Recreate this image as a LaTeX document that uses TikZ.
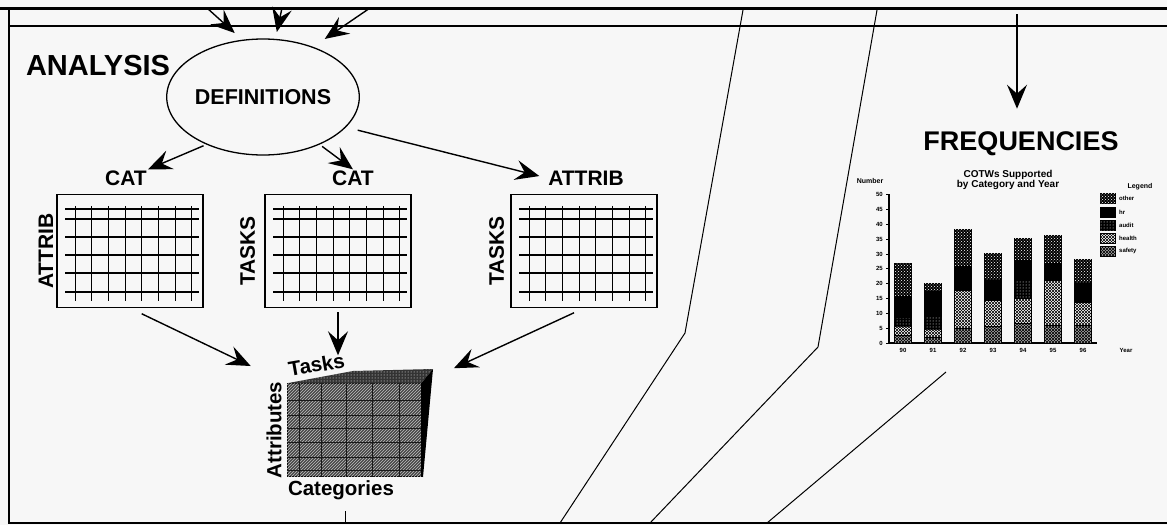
\documentclass[tikz,border=0pt]{standalone}
\usepackage{fontspec}
\setmainfont{Liberation Sans}
\usetikzlibrary{arrows.meta,positioning,calc,patterns,shapes.geometric}

\begin{document}
\begin{tikzpicture}[x=1pt,y=-1pt,
  every node/.style={inner sep=1pt},
  lbl/.style={font=\fontsize{21}{21}\selectfont\bfseries},
  cubelbl/.style={font=\fontsize{20.5}{20.5}\selectfont\bfseries},
  arr/.style={-{Stealth[length=24pt,width=20pt,inset=9pt]},line width=1.4pt},
  mat/.style={draw,line width=1.3pt,minimum width=146pt,minimum height=113pt},
  tiny/.style={font=\fontsize{6}{6}\selectfont\bfseries},
  segA/.style={draw,fill=black,postaction={pattern=crosshatch dots,pattern color=white}},
  segB/.style={draw,fill=black},
  segC/.style={draw,fill=black,postaction={pattern=dots,pattern color=white}},
  segD/.style={draw,fill=white,postaction={pattern=north east lines},postaction={pattern=north west lines}},
  segE/.style={draw,fill=black!35,postaction={pattern=north east lines},postaction={pattern=north west lines}}]
\useasboundingbox (0,0) rectangle (1167,525);
\fill[black!3] (0,0) rectangle (1167,525);

\draw[line width=3pt] (0,8) -- (1167,8);
\draw[line width=2.4pt] (9,26) -- (1167,26);
\draw[line width=1.8pt] (9,8) -- (9,523) -- (1167,523);
\draw[line width=1pt] (743,10) -- (685,333) -- (560,523);
\draw[line width=1pt] (877,10) -- (818,347) -- (650,523);
\draw[line width=1pt] (946,372) -- (767,523);
\draw[line width=0.8pt] (345,511) -- (345,523);

\node[font=\fontsize{29}{29}\selectfont\bfseries] (analysis) at (98,66) {ANALYSIS};
\node[draw,ellipse,line width=1.3pt,minimum width=172pt,minimum height=116pt,inner sep=0pt,
  font=\fontsize{21.5}{21.5}\selectfont\bfseries] (defs) at (263,97) {DEFINITIONS};

\coordinate (t1) at (207,8);
\coordinate (t2) at (282,8);
\coordinate (t3) at (370,8);
\coordinate (t4) at (1017,14);
\draw[arr,shorten >=10pt] (t1) -- (defs.110);
\draw[arr,shorten >=7pt] (t2) -- (defs.78);
\draw[arr,shorten >=14pt] (t3) -- (defs.45);

\node[lbl] (cat1) at (126,178) {CAT};
\node[lbl] (cat2) at (353,178) {CAT};
\node[lbl] (attrib) at (586,178) {ATTRIB};
\draw[arr,shorten <=3pt] (defs.220) -- (cat1.north east);
\draw[arr,shorten <=3pt] (defs.-40) -- (cat2.north);
\draw[arr,shorten <=12pt,shorten >=8pt] (defs.-20) -- (attrib.west);

\node[mat] (g1) at (130,251) {};
\node[mat] (g2) at (338,251) {};
\node[mat] (g3) at (584,251) {};
\foreach \g in {g1,g2,g3} {
  \foreach \dy in {15,25,43,61,79,98}
    \draw[line width=2pt] ($(\g.north west)+(9,\dy)$) -- ($(\g.north east)+(-5,\dy)$);
  \foreach \dx in {19,35,52,69,85,102,119,135}
    \draw[line width=1.3pt] ($(\g.north west)+(\dx,12)$) -- ($(\g.north west)+(\dx,107)$);
}
\node[lbl,rotate=90,left=10pt of g1,anchor=south,yshift=-8pt] (attribv) {ATTRIB};
\node[lbl,rotate=90,left=8pt of g2,anchor=south] (tasks1) {TASKS};
\node[lbl,rotate=90,left=5pt of g3,anchor=south] (tasks2) {TASKS};

\node[draw,fill=black!72,minimum width=134pt,minimum height=93pt,inner sep=0pt,
  postaction={pattern=north east lines,pattern color=black!25}] (cube) at (354,430) {};
\foreach \dy in {17,32,45,59,74,87}
  \draw[black!90,line width=0.8pt] ($(cube.north west)+(0,\dy)$) -- ($(cube.north east)+(0,\dy)$);
\foreach \dx in {13,35,60,86,113}
  \draw[black!90,line width=0.8pt] ($(cube.north west)+(\dx,0)$) -- ($(cube.south west)+(\dx,0)$);
\fill[black!80,postaction={pattern=dots,pattern color=white}] (cube.north west) -- (353,371) -- (433,369) -- (cube.north east) -- cycle;
\fill[black] (cube.north east) -- (433,369) -- (423,477) -- (cube.south east) -- cycle;
\node[cubelbl,rotate=10,anchor=south west,inner sep=0pt] (tasks) at ($(cube.north west)+(3,-6)$) {Tasks};
\node[cubelbl,rotate=90,left=4pt of cube,anchor=south] (attrs) {Attributes};
\node[cubelbl,anchor=north west] (cats) at ($(cube.south west)+(0,3)$) {Categories};

\draw[arr,shorten <=13pt,shorten >=40pt] (g1.south) -- (cube.north west);
\draw[arr,shorten <=4pt,shorten >=28pt] (g2.south) -- (g2.south |- cube.north);
\draw[arr,shorten <=11pt,shorten >=36pt] (g3.south) -- (cube.north east);

\node[font=\fontsize{27}{27}\selectfont\bfseries] (freq) at (1021,144) {FREQUENCIES};
\draw[arr,shorten >=22pt] (t4) -- (t4 |- freq.north);

\node[font=\fontsize{10}{9}\selectfont\bfseries,align=center] (ctitle) at (1008,180) {COTWs Supported\\by Category and Year};
\node[font=\fontsize{7}{7}\selectfont\bfseries] (number) at (870,181) {Number};
\node[font=\fontsize{7}{7}\selectfont\bfseries] (legend) at (1140,187) {Legend};
\draw[line width=1.2pt] (889,194) -- (889,343);
\draw[line width=1.6pt] (889,343) -- (1097,343);
\foreach \k in {0,...,10} {
  \draw[line width=0.8pt] (886,343-\k*14.83) -- (889,343-\k*14.83);
  \node[tiny,anchor=east] at (884,343-\k*14.83) {\the\numexpr\k*5\relax};
}
\foreach \x/\ya/\yb/\yc/\yd/\ye/\yr in {903/335/326/317/295/263/90,933/337/329/315/290/283/91,
  963/328/290/290/265/229/92,993/326/300/300/279/253/93,1023/323/298/280/259/238/94,
  1053/325/280/280/262/235/95,1083/325/302/302/282/259/96} {
  \draw[segE] (\x-8.5,343) rectangle (\x+8.5,\ya);
  \draw[segD] (\x-8.5,\ya) rectangle (\x+8.5,\yb);
  \draw[segC] (\x-8.5,\yb) rectangle (\x+8.5,\yc);
  \draw[segB] (\x-8.5,\yc) rectangle (\x+8.5,\yd);
  \draw[segA] (\x-8.5,\yd) rectangle (\x+8.5,\ye);
  \node[tiny] at (\x,350) {\yr};
}
\node[tiny] (year) at (1126,350) {Year};
\foreach \s/\y/\t in {segA/198/other,segB/212/hr,segC/225/audit,segD/238/health,segE/251/safety} {
  \draw[\s] (1100,\y-5) rectangle (1115,\y+5);
  \node[tiny,anchor=west] at (1118,\y) {\t};
}
\end{tikzpicture}
\end{document}
